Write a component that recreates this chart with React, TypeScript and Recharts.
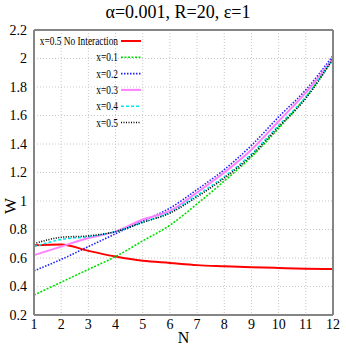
import { CartesianGrid, Legend, Line, LineChart, XAxis, YAxis } from 'recharts';

const N_VALUES = [1, 2, 3, 4, 5, 6, 7, 8, 9, 10, 11, 12];
const NO_INTERACTION = [0.69, 0.695, 0.65, 0.61, 0.58, 0.565, 0.55, 0.542, 0.535, 0.53, 0.525, 0.522];
const X01 = [0.34, 0.43, 0.52, 0.61, 0.72, 0.83, 0.98, 1.14, 1.31, 1.51, 1.73, 1.99];
const X02 = [0.51, 0.59, 0.68, 0.77, 0.86, 0.95, 1.08, 1.22, 1.39, 1.59, 1.78, 2.02];
const X03 = [0.62, 0.68, 0.74, 0.785, 0.87, 0.93, 1.06, 1.2, 1.36, 1.56, 1.76, 2.0];
const X04 = [0.68, 0.73, 0.75, 0.785, 0.85, 0.92, 1.04, 1.17, 1.33, 1.53, 1.73, 2.0];
const X05 = [0.7, 0.745, 0.755, 0.785, 0.85, 0.915, 1.03, 1.16, 1.32, 1.52, 1.72, 2.0];

const Y_TICKS = [0.2, 0.4, 0.6, 0.8, 1, 1.2, 1.4, 1.6, 1.8, 2, 2.2];

const SERIES = [
  { key: 'noint', name: 'x=0.5 No Interaction', values: NO_INTERACTION, color: '#ff0000', dash: undefined, width: 2 },
  { key: 'x01', name: 'x=0.1', values: X01, color: '#00e000', dash: '2 1.5', width: 1.6 },
  { key: 'x02', name: 'x=0.2', values: X02, color: '#2020ff', dash: '1.5 1.5', width: 1.6 },
  { key: 'x03', name: 'x=0.3', values: X03, color: '#ff80ff', dash: undefined, width: 2 },
  { key: 'x04', name: 'x=0.4', values: X04, color: '#00e8f0', dash: '3 2', width: 1.6 },
  { key: 'x05', name: 'x=0.5', values: X05, color: '#000000', dash: '1 1.5', width: 1.6 },
];

const data = N_VALUES.map((n, i) => {
  const row: Record<string, number> = { n };
  SERIES.forEach((s) => (row[s.key] = s.values[i]));
  return row;
});

const FONT = 'Liberation Serif, Times New Roman, DejaVu Serif, serif';
const AXIS_GREY = '#858585';

function LegendBox() {
  return (
    <svg width={150} height={135} style={{ display: 'block' }}>
      {SERIES.map((s, i) => {
        const y = 41 + i * 16.3;
        return (
          <g key={s.key}>
            <g transform={`translate(118,${y + 4}) scale(0.78,1)`}>
              <text textAnchor="end" fontFamily={FONT} fontSize={12} fill="#000">
                {s.name}
              </text>
            </g>
            <line x1={121} x2={141} y1={y} y2={y} stroke={s.color} strokeWidth={s.width} strokeDasharray={s.dash} />
          </g>
        );
      })}
    </svg>
  );
}

export default function App() {
  return (
    <div style={{ position: 'absolute', left: 0, top: 0, width: 346, height: 346, background: '#fff' }}>
      <div
        style={{
          position: 'absolute',
          left: 0,
          width: 356,
          top: 2,
          textAlign: 'center',
          fontFamily: FONT,
          fontSize: 18,
          color: '#000',
        }}
      >
        α=0.001, R=20, ε=1
      </div>
      <LineChart width={346} height={346} data={data} margin={{ top: 30, right: 13, left: 4, bottom: 0 }}>
        <CartesianGrid stroke="#c8c8c8" strokeDasharray="1 2" />
        <XAxis
          dataKey="n"
          type="number"
          domain={[1, 12]}
          ticks={N_VALUES}
          interval={0}
          height={31}
          tickLine={false}
          tickSize={0}
          tickMargin={4}
          axisLine={{ stroke: AXIS_GREY, strokeWidth: 2 }}
          tick={{ fill: '#000', fontSize: 14, fontFamily: FONT }}
          label={{ value: 'N', position: 'insideBottom', offset: 3, fill: '#000', fontSize: 16, fontFamily: FONT }}
        />
        <XAxis xAxisId="bm" dataKey="n" type="number" domain={[1, 12]} ticks={N_VALUES} interval={0} mirror tick={false} tickSize={5} tickLine={{ stroke: AXIS_GREY }} axisLine={false} />
        <XAxis xAxisId="tm" orientation="top" dataKey="n" type="number" domain={[1, 12]} ticks={N_VALUES} interval={0} mirror tick={false} tickSize={5} tickLine={{ stroke: AXIS_GREY }} axisLine={{ stroke: AXIS_GREY, strokeWidth: 2 }} />
        <YAxis
          type="number"
          domain={[0.2, 2.2]}
          ticks={Y_TICKS}
          interval={0}
          width={30}
          tickLine={false}
          tickSize={0}
          tickMargin={7}
          axisLine={{ stroke: AXIS_GREY, strokeWidth: 2 }}
          tick={{ fill: '#000', fontSize: 14, fontFamily: FONT }}
          tickFormatter={(v: number) => String(Math.round(v * 10) / 10)}
          label={(props: any) => {
            const vb = props.viewBox || {};
            const cx = 10;
            const cy = (vb.y ?? 30) + 176;
            return (
              <text x={cx} y={cy} transform={`rotate(-90,${cx},${cy})`} textAnchor="middle" dominantBaseline="central" fontFamily={FONT} fontSize={17} fill="#000">
                W
              </text>
            );
          }}
        />
        <YAxis yAxisId="lm" type="number" domain={[0.2, 2.2]} ticks={Y_TICKS} interval={0} mirror tick={false} tickSize={5} tickLine={{ stroke: AXIS_GREY }} axisLine={false} />
        <YAxis yAxisId="rm" orientation="right" type="number" domain={[0.2, 2.2]} ticks={Y_TICKS} interval={0} mirror tick={false} tickSize={5} tickLine={{ stroke: AXIS_GREY }} axisLine={{ stroke: AXIS_GREY, strokeWidth: 2 }} />
        <Legend
          layout="vertical"
          align="center"
          verticalAlign="middle"
          wrapperStyle={{ left: 0, top: 0, width: 150, height: 135 }}
          content={() => <LegendBox />}
        />
        {SERIES.map((s) => (
          <Line
            key={s.key}
            dataKey={s.key}
            name={s.name}
            type="monotone"
            stroke={s.color}
            strokeWidth={s.width}
            strokeDasharray={s.dash}
            dot={false}
            isAnimationActive={false}
          />
        ))}
      </LineChart>
    </div>
  );
}
